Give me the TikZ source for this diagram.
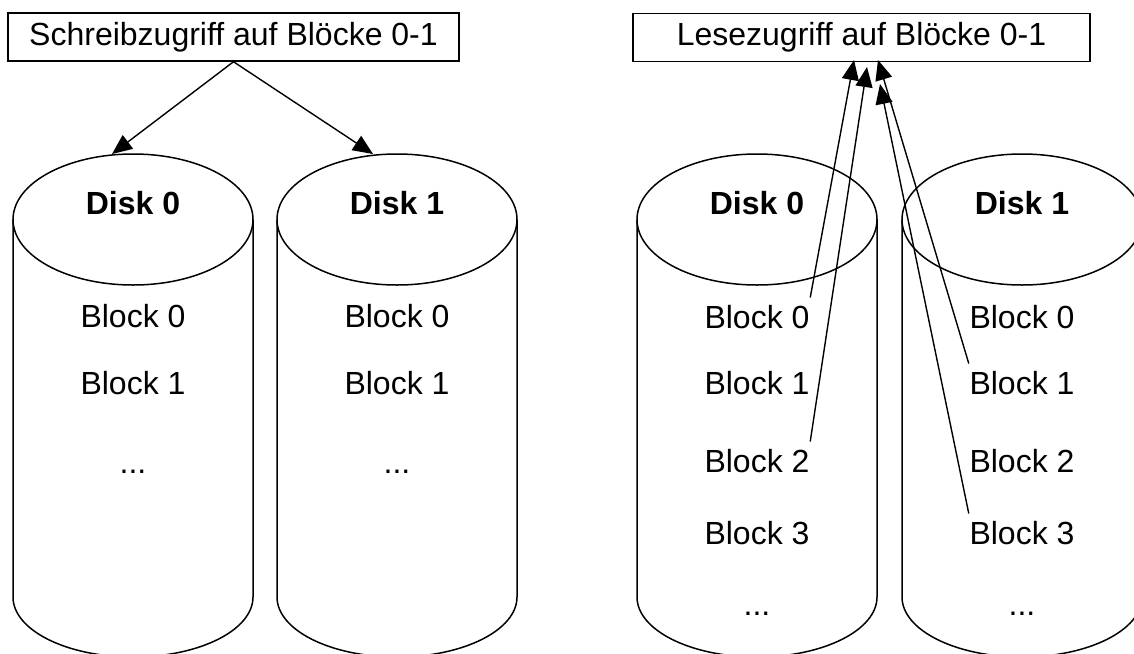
\documentclass[tikz,border=0pt]{standalone}
\usepackage{fontspec}
\setmainfont{Liberation Sans}
\usetikzlibrary{arrows.meta}
\begin{document}
\begin{tikzpicture}[x=1pt,y=-1pt,
  line width=1.5pt,
  every node/.style={font=\fontsize{32}{37}\selectfont},
  lbl/.style={anchor=base, inner xsep=0pt, inner ysep=6.5pt},
  disklbl/.style={anchor=base, font=\fontsize{32}{37}\selectfont\bfseries},
  accbox/.style={draw, minimum height=48pt, inner sep=0pt},
  arr/.style={-{Triangle[length=20pt,width=17pt]}, line width=1.4pt}]
\useasboundingbox (0,0) rectangle (1134,653);
\clip (0,0) rectangle (1134,653);
% cylinders
\foreach \cx in {133,397,757,1022} {
  \draw (\cx,219.5) ellipse [x radius=120, y radius=65.5];
  \draw (\cx-120,219.5) -- (\cx-120,597)
        arc[start angle=180, end angle=0, x radius=120, y radius=60]
        -- (\cx+120,219.5);
}
% access boxes
\node[accbox, minimum width=451pt] (wbox) at (233.5,37) {Schreibzugriff auf Blöcke 0-1};
\node[accbox, minimum width=457pt] (rbox) at (861.5,37.5) {Lesezugriff auf Blöcke 0-1};
% disk labels
\node[disklbl] (aname) at (133,214) {Disk 0};
\node[disklbl] (bname) at (397,214) {Disk 1};
\node[disklbl] (cname) at (757,214) {Disk 0};
\node[disklbl] (dname) at (1022,214) {Disk 1};
% blocks left
\node[lbl] (ab0) at (133,327) {Block 0};
\node[lbl] (ab1) at (133,394) {Block 1};
\node[lbl] (abd) at (133,473) {...};
\node[lbl] (bb0) at (397,327) {Block 0};
\node[lbl] (bb1) at (397,394) {Block 1};
\node[lbl] (bbd) at (397,473) {...};
% blocks right
\node[lbl] (cb0) at (757,328) {Block 0};
\node[lbl] (cb1) at (757,394) {Block 1};
\node[lbl] (cb2) at (757,472) {Block 2};
\node[lbl] (cb3) at (757,544) {Block 3};
\node[lbl] (cbd) at (757,615) {...};
\node[lbl] (db0) at (1022,328) {Block 0};
\node[lbl] (db1) at (1022,394) {Block 1};
\node[lbl] (db2) at (1022,472) {Block 2};
\node[lbl] (db3) at (1022,544) {Block 3};
\node[lbl] (dbd) at (1022,615) {...};
% arrow targets
\coordinate (wt0) at (112,154);
\coordinate (wt1) at (373,154);
\coordinate (rt0) at (854,60);
\coordinate (rt1) at (867,67);
\coordinate (rt2) at (878,60);
\coordinate (rt3) at (880,84);
% arrows
\draw[arr] (wbox.south) -- (wt0);
\draw[arr] (wbox.south) -- (wt1);
\draw[arr] (cb0.north east) -- (rt0);
\draw[arr] (cb2.north east) -- (rt1);
\draw[arr] (db1.north west) -- (rt2);
\draw[arr] (db3.north west) -- (rt3);
\end{tikzpicture}
\end{document}
